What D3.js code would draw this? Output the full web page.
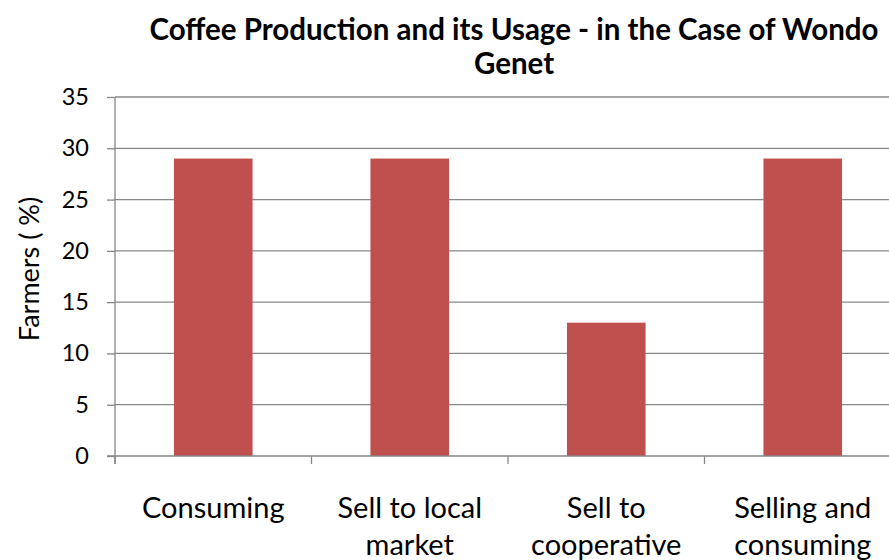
<!DOCTYPE html>
<html><head><meta charset="utf-8">
<script src="https://cdn.jsdelivr.net/npm/d3@7"></script>
<style>body{margin:0;background:#fff;} text{font-family:Lato,"Open Sans",sans-serif;}</style>
</head><body>
<svg id="c" width="889" height="560"></svg>
<script>
const categories = [["Consuming"], ["Sell to local", "market"], ["Sell to", "cooperative"], ["Selling and", "consuming"]];
const values = [29, 29, 13, 29];
const yTicks = [0, 5, 10, 15, 20, 25, 30, 35];
const titleLines = ["Coffee Production and its Usage - in the Case of Wondo", "Genet"];
const yTitle = "Farmers ( %)";

(function() {
const svg = d3.select("#c");
const pLeft = 115, pRight = 901, pTop = 97, pBottom = 456;
const x = d3.scaleBand().domain(d3.range(categories.length)).range([pLeft, pRight]).paddingInner(0.6).paddingOuter(0.3);
const xb = d3.scaleBand().domain(d3.range(categories.length)).range([pLeft, pRight]);
const y = d3.scaleLinear().domain([0, 35]).range([pBottom, pTop]);

svg.append("g").selectAll("line").data(yTicks.filter(d => d > 0)).join("line")
  .attr("x1", pLeft).attr("x2", pRight).attr("y1", d => y(d)).attr("y2", d => y(d))
  .attr("stroke", "#888").attr("stroke-width", 1.3);

svg.append("g").selectAll("rect").data(values).join("rect")
  .attr("x", (d, i) => x(i)).attr("width", x.bandwidth())
  .attr("y", d => y(d)).attr("height", d => y(0) - y(d))
  .attr("fill", "#C0504D");

const ya = svg.append("g").attr("transform", `translate(${pLeft},0)`)
  .call(d3.axisLeft(y).tickValues(yTicks).tickSize(8).tickPadding(18));
ya.select(".domain").attr("stroke", "#868686").attr("stroke-width", 1.3).attr("d", `M0,${pTop}V${pBottom + 8}`);
ya.selectAll(".tick line").attr("stroke", "#868686").attr("stroke-width", 1.3);
ya.selectAll(".tick text").attr("font-size", 23.5).attr("fill", "#000").attr("font-family", "Lato");

svg.append("line").attr("x1", pLeft - 8).attr("x2", pRight).attr("y1", pBottom).attr("y2", pBottom)
  .attr("stroke", "#868686").attr("stroke-width", 1.3);
svg.append("g").selectAll("line").data(d3.range(categories.length + 1)).join("line")
  .attr("x1", i => pLeft + i * xb.step()).attr("x2", i => pLeft + i * xb.step())
  .attr("y1", pBottom).attr("y2", pBottom + 8)
  .attr("stroke", "#868686").attr("stroke-width", 1.3);

const cl = svg.append("g").selectAll("text").data(categories).join("text")
  .attr("text-anchor", "middle").attr("font-size", 29).attr("fill", "#000");
cl.each(function(lines, i) {
  const t = d3.select(this);
  lines.forEach((s, j) => t.append("tspan").attr("x", xb(i) + xb.bandwidth() / 2).attr("y", 518 + j * 37).text(s));
});

const tt = svg.append("text").attr("text-anchor", "middle").attr("font-weight", "bold").attr("font-size", 29.5).attr("fill", "#000");
titleLines.forEach((s, j) => tt.append("tspan").attr("x", 514).attr("y", 40 + j * 34).text(s));

svg.append("text").attr("transform", "translate(39,269) rotate(-90)").attr("text-anchor", "middle")
  .attr("font-size", 27).attr("fill", "#000").text(yTitle);
})();
</script>
</body></html>
